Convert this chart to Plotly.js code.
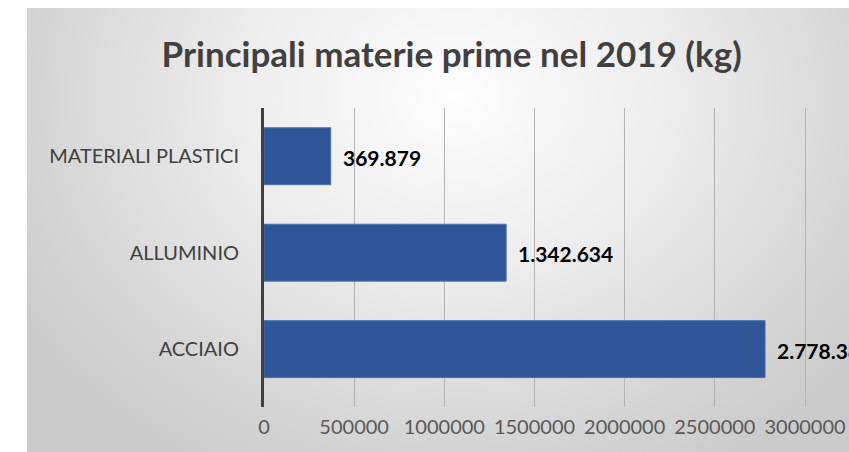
<!DOCTYPE html>
<html>
<head>
<meta charset="utf-8">
<script src="https://cdn.plot.ly/plotly-3.0.1.min.js"></script>
<style>
  html, body { margin: 0; padding: 0; background: #ffffff; overflow: hidden; width: 849px; height: 452px; }
  #bg { position: absolute; left: 27px; top: 8px; width: 822px; height: 444px;
        background: radial-gradient(ellipse 62% 95% at 52% 20%, #fdfdfd 0%, #eeeeee 40%, #d6d6d6 80%, #cbcbcb 100%); }
  #chart { position: absolute; left: 0; top: 0; width: 849px; height: 452px; }
</style>
</head>
<body>
<div id="bg"></div>
<div id="chart"></div>
<script>
// Data
const categories = ['ACCIAIO', 'ALLUMINIO', 'MATERIALI PLASTICI'];
const values = [2778380, 1342634, 369879];
const tickValues = [0, 500000, 1000000, 1500000, 2000000, 2500000, 3000000];
const tickLabels = ['0', '500000', '1000000', '1500000', '2000000', '2500000', '3000000'];
const titleText = 'Principali materie prime nel 2019 (kg)';

function fmtIt(v) {
  return String(v).replace(/\B(?=(\d{3})+(?!\d))/g, '.');
}

const trace = {
  type: 'bar',
  orientation: 'h',
  x: values,
  y: categories,
  marker: { color: '#2F5597', line: { color: '#4a6fb0', width: 1 } },
  hoverinfo: 'none'
};

const annotations = values.map((v, i) => ({
  x: v, y: categories[i], xref: 'x', yref: 'y',
  text: fmtIt(v), showarrow: false, xanchor: 'left', yanchor: 'middle',
  xshift: 10, yshift: -1,
  font: { family: 'Lato, sans-serif', size: 21, color: '#000000', weight: 'bold' }
}));

const layout = {
  width: 849, height: 452,
  margin: { l: 264, r: 0, t: 108, b: 45, pad: 0 },
  paper_bgcolor: 'rgba(0,0,0,0)',
  plot_bgcolor: 'rgba(0,0,0,0)',
  showlegend: false,
  bargap: 0.41,
  title: {
    text: '<b>' + titleText + '</b>',
    xref: 'container', yref: 'container',
    x: 0.532, xanchor: 'center', y: 0.878, yanchor: 'middle',
    font: { family: 'Lato, sans-serif', size: 35, color: '#404040' }
  },
  xaxis: {
    range: [0, 3243900],
    tickvals: tickValues, ticktext: tickLabels,
    showgrid: true, gridcolor: '#b3b3b3', gridwidth: 1,
    zeroline: false, showline: false,
    ticks: 'outside', ticklen: 2, tickcolor: 'rgba(0,0,0,0)',
    tickfont: { family: 'Lato, sans-serif', size: 20, color: '#595959' },
    fixedrange: true
  },
  yaxis: {
    type: 'category',
    range: [-0.6, 2.5],
    showline: true, linecolor: '#404040', linewidth: 3,
    showgrid: false, zeroline: false,
    ticks: 'outside', ticklen: 18, tickcolor: 'rgba(0,0,0,0)',
    tickfont: { family: 'Lato, sans-serif', size: 20, color: '#404040' },
    fixedrange: true
  },
  annotations: annotations
};

Plotly.newPlot('chart', [trace], layout, { displayModeBar: false, staticPlot: true });
</script>
</body>
</html>
